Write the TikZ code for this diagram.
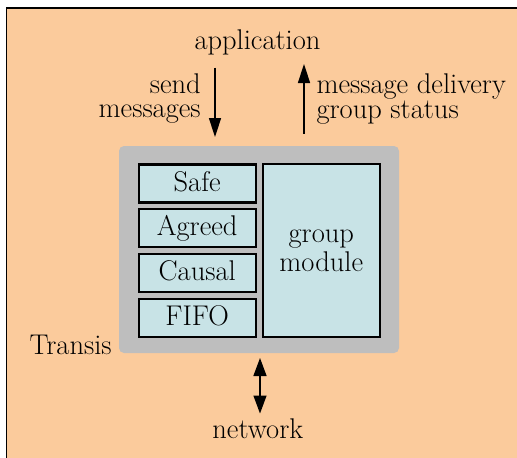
\documentclass[tikz,border=0pt]{standalone}
\usetikzlibrary{arrows.meta}
\definecolor{bgorange}{RGB}{251,203,156}
\definecolor{panelgray}{RGB}{190,190,190}
\definecolor{boxblue}{RGB}{200,227,230}
\begin{document}
\begin{tikzpicture}[x=1pt,y=-1pt,
  txt/.style={font=\fontsize{28.5}{24.5}\selectfont, inner sep=0pt, outer sep=0pt},
  layer/.style={txt, draw=black, line width=2.2pt, fill=boxblue,
    minimum width=117pt, minimum height=38pt, text height=15pt, text depth=0pt},
  conn/.style={line width=1.5pt, -{Triangle[length=19pt,width=12pt]}},
  dconn/.style={line width=1.5pt, {Triangle[length=18pt,width=13pt]}-{Triangle[length=18pt,width=13pt]}}
]
\useasboundingbox (0,0) rectangle (517,458);
\fill[white] (0,0) rectangle (517,458);
\fill[bgorange] (6.5,8) rectangle (517,458);
\draw[line width=1.6pt] (6.5,460) -- (6.5,8) -- (518,8);

% container
\node[fill=panelgray, rounded corners=5pt, minimum width=280pt, minimum height=207pt,
  inner sep=0pt] (transis) at (259,249.5) {};

% layers
\node[layer] (safe)   at (197.2,183.5) {Safe};
\node[layer] (agreed) at (197.2,228.2) {Agreed};
\node[layer] (causal) at (197.2,273.0) {Causal};
\node[layer] (fifo)   at (197.2,317.8) {FIFO};
\node[layer, minimum width=116.7pt, minimum height=173pt, align=center,
  text height=, text depth=] (group) at (321.3,250.8) {group\\[2.5pt]module};

% labels
\node[txt, anchor=base] (app) at (257.5,49) {application};
\node[txt, anchor=base east, align=right] (send) at (200.7,117.5) {send\\messages};
\node[txt, anchor=base west, align=left] (deliver) at (316.5,118) {message delivery\\group status};
\node[txt, anchor=base west] (translabel) at (29.5,354.5) {Transis};
\node[txt, anchor=base] (net) at (257.8,438.3) {network};

% connectors
\coordinate (sendstart) at (215,67.5);
\coordinate (sendend) at (215,137);
\coordinate (upstart) at (304,133.5);
\coordinate (upend) at (304,64);
\coordinate (nettop) at (260,358);
\coordinate (netbot) at (260,413.5);
\draw[conn] (sendstart) -- (sendend);
\draw[conn] (upstart) -- (upend);
\draw[dconn] (nettop) -- (netbot);
\end{tikzpicture}
\end{document}
